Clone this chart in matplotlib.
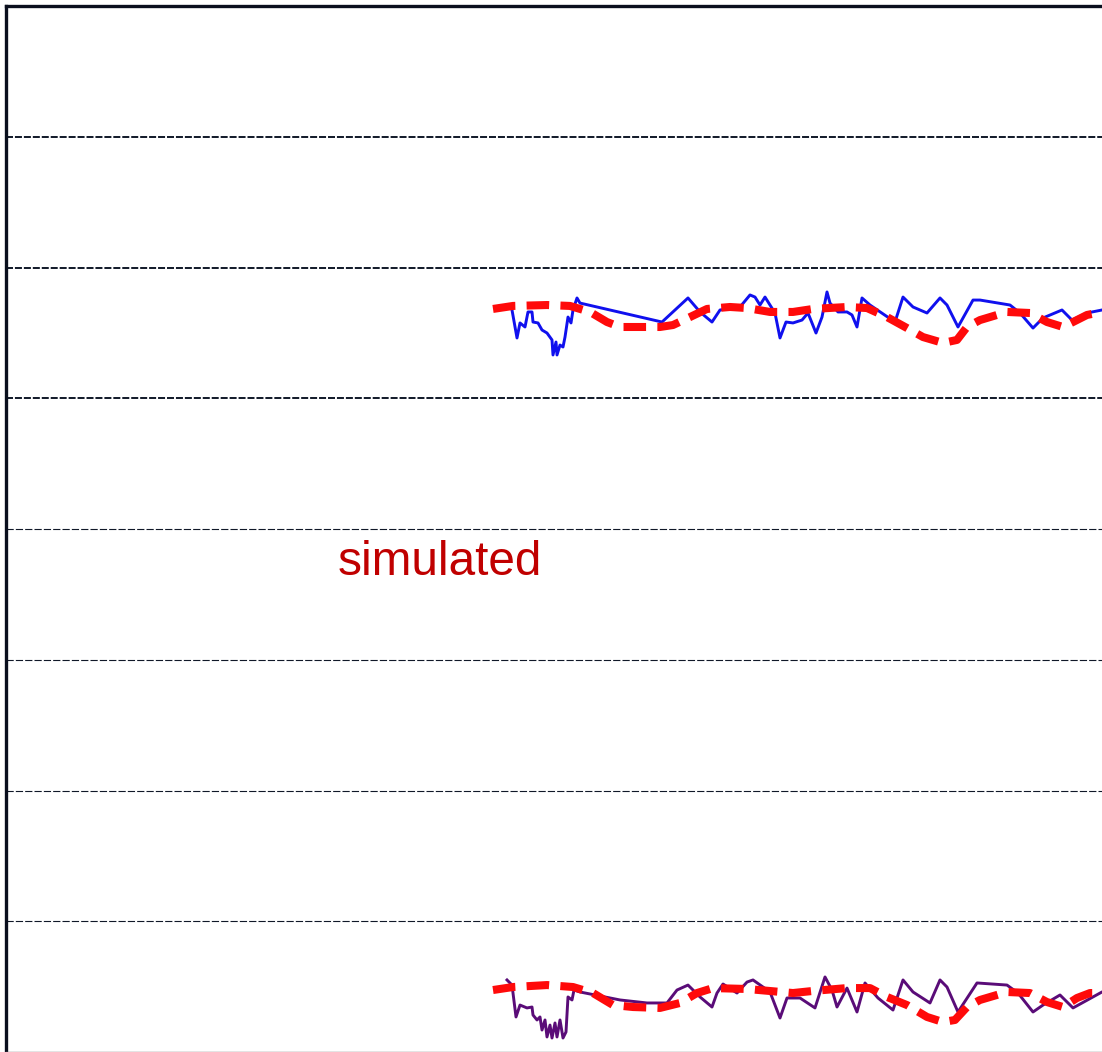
import numpy as np
import matplotlib.pyplot as plt

plt.rcParams['font.family'] = ['Liberation Sans', 'DejaVu Sans']

# measured series (upper panel band)
x_meas_top = [50.6, 51.1, 51.4, 51.9, 52.2, 52.6, 52.7, 53.2, 53.6, 54.1, 54.6, 54.7, 55.0,
              55.1, 55.4, 55.7, 55.9, 56.2, 56.5, 56.7, 57.1, 57.4, 65.6, 68.2, 69.4, 70.6,
              71.4, 73.4, 74.4, 74.9, 75.4, 75.9, 76.4, 76.9, 77.4, 78.0, 78.7, 79.6, 80.2,
              81.0, 81.6, 82.1, 82.4, 83.2, 84.1, 84.6, 85.1, 85.6, 86.4, 88.9, 89.7, 90.7,
              92.1, 93.4, 94.1, 95.2, 96.7, 97.4, 100.4, 101.4, 102.7, 103.7, 105.6, 106.6,
              108.1, 109.6, 111.0]
y_meas_top = [5.675, 5.461, 5.576, 5.545, 5.660, 5.660, 5.583, 5.576, 5.522, 5.499, 5.446,
              5.331, 5.430, 5.331, 5.407, 5.392, 5.468, 5.621, 5.576, 5.675, 5.767, 5.728,
              5.583, 5.767, 5.660, 5.583, 5.675, 5.698, 5.790, 5.774, 5.713, 5.774, 5.713,
              5.652, 5.461, 5.583, 5.576, 5.598, 5.652, 5.499, 5.621, 5.813, 5.728, 5.660,
              5.660, 5.637, 5.545, 5.767, 5.713, 5.583, 5.774, 5.698, 5.652, 5.767, 5.713,
              5.545, 5.751, 5.751, 5.713, 5.652, 5.537, 5.614, 5.675, 5.598, 5.652, 5.675,
              5.690]

# simulated series (upper)
x_sim_top = [48.7, 50.7, 54.1, 56.4, 58.4, 60.1, 61.4, 65.4, 66.7, 68.4, 70.1, 72.4, 74.1,
             76.4, 78.7, 80.7, 84.1, 86.1, 88.1, 90.1, 91.7, 93.7, 95.1, 96.1, 97.4, 100.1,
             102.4, 104.1, 105.7, 106.7, 108.1, 109.6, 111.0]
y_sim_top = [5.683, 5.706, 5.713, 5.706, 5.660, 5.583, 5.545, 5.545, 5.560, 5.621, 5.683,
             5.698, 5.690, 5.660, 5.660, 5.683, 5.698, 5.690, 5.621, 5.537, 5.468, 5.423,
             5.446, 5.545, 5.598, 5.660, 5.652, 5.583, 5.545, 5.583, 5.637, 5.660, 5.670]

# measured series (lower band)
x_meas_bot = [50.1, 50.6, 51.0, 51.4, 52.1, 52.6, 52.7, 53.1, 53.4, 53.6, 53.9, 54.1, 54.4,
              54.6, 54.9, 55.1, 55.4, 55.7, 56.0, 56.2, 56.6, 56.8, 57.4, 61.4, 64.1, 66.1,
              67.1, 68.2, 69.4, 70.6, 71.1, 71.7, 73.1, 74.1, 74.7, 75.7, 76.4, 77.4, 78.1,
              79.4, 80.9, 81.9, 82.6, 83.1, 84.1, 85.1, 85.9, 87.2, 88.7, 89.7, 90.7, 92.4,
              93.4, 94.1, 95.2, 97.1, 100.1, 101.2, 102.7, 103.7, 105.4, 106.7, 109.6, 111.0]
y_meas_bot = [0.551, 0.512, 0.268, 0.359, 0.337, 0.344, 0.283, 0.245, 0.268, 0.168, 0.245,
              0.115, 0.206, 0.107, 0.222, 0.115, 0.245, 0.107, 0.153, 0.421, 0.398, 0.474,
              0.459, 0.398, 0.375, 0.375, 0.474, 0.512, 0.421, 0.344, 0.451, 0.520, 0.451,
              0.535, 0.551, 0.497, 0.459, 0.260, 0.413, 0.413, 0.337, 0.574, 0.474, 0.344,
              0.489, 0.306, 0.528, 0.413, 0.321, 0.551, 0.459, 0.375, 0.551, 0.497, 0.306,
              0.528, 0.512, 0.451, 0.306, 0.359, 0.436, 0.337, 0.459, 0.480]

# simulated series (lower)
x_sim_bot = [48.7, 50.7, 54.1, 56.7, 58.7, 60.7, 62.7, 65.4, 67.4, 69.1, 70.7, 74.1, 78.7,
             80.7, 84.1, 86.4, 88.1, 90.1, 92.1, 93.7, 94.9, 96.1, 97.4, 100.1, 102.4, 104.1,
             105.7, 107.1, 108.4, 109.6, 111.0]
y_sim_bot = [0.474, 0.497, 0.512, 0.497, 0.451, 0.359, 0.344, 0.337, 0.375, 0.451, 0.489,
             0.482, 0.451, 0.467, 0.489, 0.489, 0.421, 0.359, 0.268, 0.229, 0.245, 0.344,
             0.398, 0.459, 0.451, 0.382, 0.344, 0.413, 0.451, 0.451, 0.451]

grid_levels = [1, 2, 3, 4, 5, 6, 7]

fig = plt.figure(figsize=(11.02, 10.52), dpi=100)
ax = fig.add_axes([6 / 1102, 0.0, 1 - 6 / 1102, 1 - 6 / 1052])
ax.set_xlim(0, 109.6)
ax.set_ylim(0, 8)

# horizontal dashed reference lines, upper ones heavier
for lvl in grid_levels:
    if lvl >= 5:
        ax.axhline(lvl, color='#101828', lw=1.4, ls=(0, (3.6, 1.0)), zorder=1)
    else:
        ax.axhline(lvl, color='#101828', lw=0.8, ls=(0, (6.5, 1.9)), zorder=1)

ax.plot(x_meas_top, y_meas_top, color='#1010ee', lw=2.1, zorder=2)
ax.plot(x_sim_top, y_sim_top, color='#ff0a0a', lw=5.8, ls=(0, (2.8, 1.4)), zorder=3)

ax.plot(x_meas_bot, y_meas_bot, color='#5a0c78', lw=2.1, zorder=2)
ax.plot(x_sim_bot, y_sim_bot, color='#ff0a0a', lw=5.8, ls=(0, (2.8, 1.4)), zorder=3)

ax.text(33.2, 3.648, 'simulated', color='#c00000', fontsize=34.4, va='baseline', ha='left')

ax.set_xticks([])
ax.set_yticks([])
ax.spines['right'].set_visible(False)
ax.spines['left'].set_linewidth(2.4)
ax.spines['top'].set_linewidth(2.4)
ax.spines['left'].set_color('#0a0f1e')
ax.spines['top'].set_color('#0a0f1e')
ax.spines['bottom'].set_color('#777777')
ax.spines['bottom'].set_linewidth(1.0)

fig.savefig('out.png', dpi=100)
